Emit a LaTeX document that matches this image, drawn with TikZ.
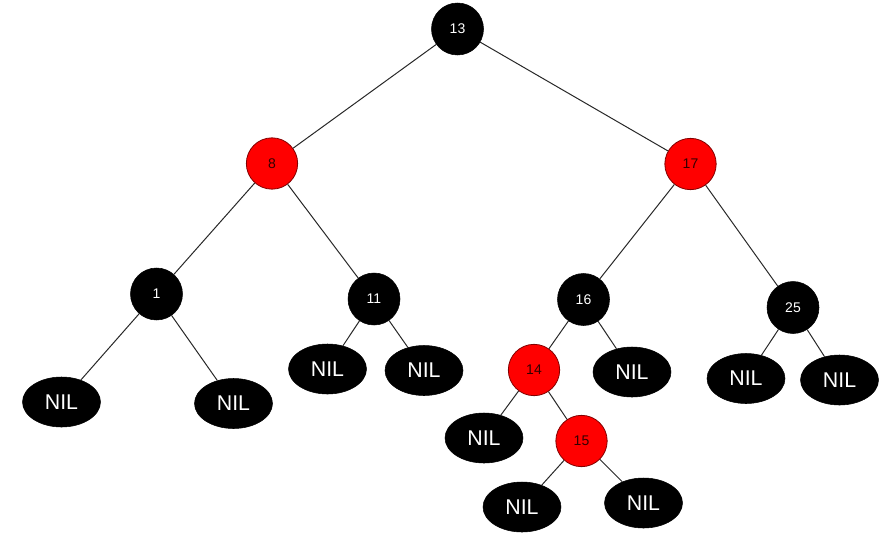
\documentclass[tikz,border=0pt]{standalone}
\usepackage{fontspec}
\setmainfont{Liberation Sans}
\usetikzlibrary{shapes.geometric}
\definecolor{rednode}{RGB}{255,0,0}
\definecolor{redline}{RGB}{130,0,0}
\definecolor{redtext}{RGB}{50,0,0}
\definecolor{edgecol}{RGB}{40,40,40}
\tikzset{
  blk/.style={circle,fill=black,draw=black,minimum size=39pt,inner sep=0pt,text=white,font=\fontsize{10.5}{12}\selectfont},
  rd/.style={circle,fill=rednode,draw=redline,line width=0.6pt,minimum size=38.5pt,inner sep=0pt,text=redtext,font=\fontsize{10.5}{12}\selectfont},
  nil/.style={ellipse,fill=black,draw=black,minimum width=58.5pt,minimum height=37.5pt,inner sep=0pt,text=white,font=\fontsize{16}{18}\selectfont},
  edge/.style={draw=edgecol,line width=0.75pt}
}
\begin{document}
\begin{tikzpicture}[x=0.75pt,y=-0.75pt]
\useasboundingbox (0,0) rectangle (887,539);
\node[blk] (n13) at (457.5,29) {13};
\node[rd] (n8) at (272,163.5) {8};
\node[rd] (n17) at (690.5,164) {17};
\node[blk] (n1) at (156.5,294) {1};
\node[blk] (n11) at (374,299) {11};
\node[blk] (n16) at (583.5,299.5) {16};
\node[blk] (n25) at (793,307.5) {25};
\node[rd] (n14) at (534,370) {14};
\node[rd] (n15) at (581.5,441) {15};
\node[nil] (a1) at (61.5,402) {NIL};
\node[nil] (b1) at (233.5,403.5) {NIL};
\node[nil] (a11) at (327.5,369) {NIL};
\node[nil] (b11) at (424,370.5) {NIL};
\node[nil] (b16) at (632,372) {NIL};
\node[nil] (a14) at (484,438) {NIL};
\node[nil] (a15) at (522,507) {NIL};
\node[nil] (b15) at (643.5,503) {NIL};
\node[nil] (a25) at (746,378.5) {NIL};
\node[nil] (b25) at (839.5,380) {NIL};
\path[edge] (n13) -- (n8);
\path[edge] (n13) -- (n17);
\path[edge] (n8) -- (n1);
\path[edge] (n8) -- (n11);
\path[edge] (n17) -- (n16);
\path[edge] (n17) -- (n25);
\path[edge] (n1) -- (a1);
\path[edge] (n1) -- (b1);
\path[edge] (n11) -- (a11);
\path[edge] (n11) -- (b11);
\path[edge] (n16) -- (n14);
\path[edge] (n16) -- (b16);
\path[edge] (n14) -- (a14);
\path[edge] (n14) -- (n15);
\path[edge] (n15) -- (a15);
\path[edge] (n15) -- (b15);
\path[edge] (n25) -- (a25);
\path[edge] (n25) -- (b25);
\end{tikzpicture}
\end{document}
